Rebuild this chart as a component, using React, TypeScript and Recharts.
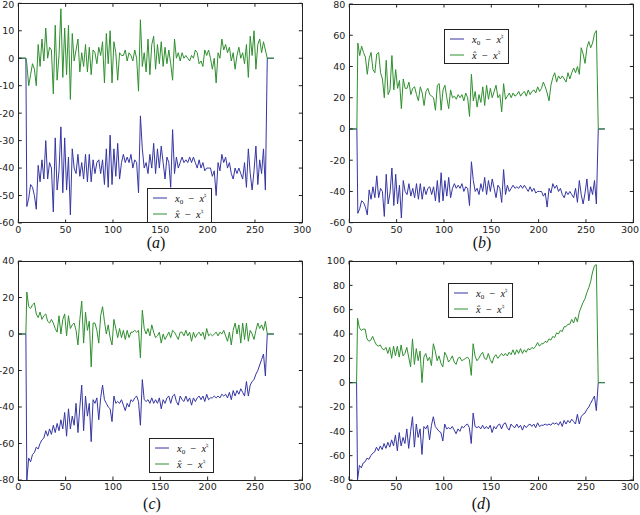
import { LineChart, Line, XAxis, YAxis } from 'recharts';

// sampling grid of the noisy part (x = 9, 11, ..., 261); flat zero before 8 and after 263
const X_START = 9;
const X_STEP = 2;
const LEAD_X = [0, 8];
const TAIL_X = [263, 270];

const xTicks = [0, 50, 100, 150, 200, 250, 300];
const yTicksA = [-60, -50, -40, -30, -20, -10, 0, 10, 20];
const yTicksB = [-60, -40, -20, 0, 20, 40, 60, 80];
const yTicksC = [-80, -60, -40, -20, 0, 20, 40];
const yTicksD = [-80, -60, -40, -20, 0, 20, 40, 60, 80, 100];

// x0 - x*, panels (a) and (b)
const blueAB = [
  -54, -51, -46, -47, -50, -55, -39, -45, -37, -44,
  -30, -44, -38, -40, -56, -29, -48, -41, -25, -49,
  -29, -48, -36, -57, -33, -40, -42, -35, -43, -38,
  -44, -35, -45, -35, -45, -37, -42, -38, -37, -42,
  -37, -46, -33, -47, -28, -46, -33, -43, -31, -44,
  -38, -35, -38, -36, -38, -35, -40, -37, -38, -49,
  -21, -33, -40, -38, -42, -35, -40, -31, -42, -33,
  -40, -32, -38, -44, -36, -38, -47, -26, -42, -36,
  -40, -38, -36, -38, -37, -38, -36, -38, -36, -38,
  -40, -37, -40, -38, -41, -40, -40, -40, -43, -41,
  -50, -38, -41, -35, -38, -36, -40, -38, -42, -44,
  -40, -42, -40, -42, -44, -38, -47, -33, -42, -48,
  -41, -32, -46, -37, -42, -33, -48,
];

// x^ - x*, panel (a)
const greenA = [
  -2, -10, -6, -2, -4, -10, 5, -3, 7, -1,
  11, 0, 4, 3, -13, 12, -8, 1, 18, -7,
  11, -6, 12, -15, 9, -1, 3, 7, -5, 2,
  -3, 5, -5, 4, -6, 3, 2, -2, 4, 1,
  6, -9, 9, -2, 10, -9, 6, 2, -8, 2,
  1, 1, 3, -1, 2, 1, -1, 3, 0, -12,
  14, -3, 2, -5, 7, -6, 5, 8, -4, 5,
  -2, 6, -3, 4, -2, 3, -2, -8, 7, 0,
  2, -1, 2, 0, 1, 0, -1, 1, 0, 3,
  2, -2, -1, -3, 3, 1, 3, 0, -4, 0,
  -9, 2, 0, 7, 3, 5, 2, 4, -1, 2,
  -4, 1, 4, 0, 2, -2, 5, -7, 8, 1,
  10, -4, 5, 7, 2, 6, 3,
];

// x^ - x*, panel (b)
const greenB = [
  55, 47, 53, 49, 46, 35, 45, 49, 38, 36,
  48, 49, 36, 32, 20, 44, 22, 25, 47, 25,
  38, 26, 31, 13, 32, 26, 26, 30, 22, 26,
  27, 22, 18, 27, 23, 15, 24, 26, 22, 21,
  20, 12, 28, 29, 12, 25, 28, 20, 13, 25,
  20, 21, 19, 22, 20, 22, 18, 23, 20, 8,
  35, 18, 24, 14, 22, 17, 27, 15, 28, 19,
  26, 20, 24, 28, 20, 22, 11, 29, 19, 21,
  23, 20, 23, 21, 22, 24, 21, 23, 24, 21,
  25, 22, 24, 25, 23, 27, 24, 26, 30, 27,
  23, 18, 28, 33, 36, 30, 34, 32, 34, 32,
  30, 36, 32, 36, 39, 36, 40, 35, 52, 48,
  42, 52, 56, 52, 55, 61, 63,
];

// x0 - x*, panels (c) and (d)
const blueCD = [
  -80, -68, -70, -66, -65, -62, -63, -60, -58, -57,
  -53, -56, -52, -55, -50, -54, -49, -53, -47, -52,
  -43, -56, -41, -52, -45, -50, -38, -54, -40, -28,
  -53, -34, -45, -38, -59, -36, -38, -35, -47, -35,
  -28, -36, -38, -40, -41, -48, -34, -38, -37, -38,
  -36, -39, -42, -38, -40, -36, -37, -35, -34, -37,
  -50, -25, -36, -37, -36, -38, -35, -38, -36, -38,
  -35, -41, -36, -38, -35, -34, -38, -34, -33, -37,
  -39, -34, -36, -37, -34, -37, -35, -39, -35, -37,
  -35, -34, -36, -34, -37, -33, -36, -35, -35, -34,
  -35, -34, -35, -33, -34, -33, -35, -32, -36, -31,
  -34, -31, -33, -30, -32, -34, -26, -34, -28, -26,
  -25, -22, -20, -17, -14, -11, -23,
];

// x^ - x*, panel (c)
const greenC = [
  23, 15, 14, 16, 17, 11, 9, 12, 8, 10,
  11, 7, 6, 8, 6, 3, 1, 10, 0, 8,
  11, -1, 10, 3, 5, 6, 2, -6, 8, 18,
  -5, 12, 2, 7, -18, 6, 6, 2, -5, 10,
  15, 7, 0, 5, -2, -6, 8, 3, -2, 3,
  -2, 2, -3, 2, -2, 1, 1, 2, 1, 2,
  -13, 13, 3, 0, 3, -1, 5, 1, -2, -1,
  1, -5, 0, -3, -1, 1, -2, 2, 1, -1,
  -3, 1, 1, -1, 2, -1, 1, -4, 1, -2,
  0, 1, -1, 1, -3, 3, -1, 0, -1, 0,
  1, -1, 1, 0, 2, -1, -4, 1, -6, 2,
  6, 0, 5, -5, 6, -3, 6, -4, 2, 0,
  -3, 2, 6, 3, 5, 2, 7,
];

// x^ - x*, panel (d)
const greenD = [
  53, 45, 43, 44, 44, 36, 34, 35, 38, 34,
  31, 30, 31, 28, 27, 29, 24, 29, 20, 30,
  22, 30, 21, 31, 22, 24, 29, 21, 13, 36,
  15, 28, 18, 26, 0, 21, 24, 18, 21, 14,
  32, 26, 18, 22, 16, 13, 25, 22, 17, 19,
  22, 17, 15, 20, 21, 18, 19, 20, 21, 19,
  6, 32, 22, 18, 20, 23, 25, 20, 19, 24,
  19, 16, 21, 23, 20, 22, 24, 22, 24, 22,
  25, 23, 27, 23, 27, 24, 28, 24, 27, 25,
  28, 27, 29, 28, 30, 33, 30, 32, 32, 34,
  33, 36, 35, 38, 37, 41, 40, 43, 42, 46,
  46, 48, 48, 52, 49, 54, 50, 58, 62, 66,
  69, 74, 78, 83, 91, 96, 97,
];

const BLUE = '#3535a3';
const GREEN = '#2f8f2f';
const AXIS = '#222';
const TICK_LEN = 3.5;
const X_AXIS_H = 20;
const LABEL = { fill: '#222', fontSize: 9.5, fontFamily: 'DejaVu Sans' };

function buildRows(blue: number[], green: number[]) {
  const zero = (x: number) => ({ x, blue: 0, green: 0 });
  const mid = blue.map((b, i) => ({ x: X_START + i * X_STEP, blue: b, green: green[i] }));
  return [...LEAD_X.map(zero), ...mid, ...TAIL_X.map(zero)];
}

function LegendBox({ left, top }: { left: number; top: number }) {
  const txt = { fontFamily: 'Liberation Serif', fontSize: 10.5, fill: '#111' };
  return (
    <svg style={{ position: 'absolute', left, top }} width={65} height={36}>
      <rect x={0.5} y={0.5} width={64} height={34} fill="#fff" stroke="#222" />
      <line x1={6} x2={20} y1={10} y2={10} stroke={BLUE} />
      <text x={28} y={13.5} {...txt}>
        <tspan fontStyle="italic">x</tspan>
        <tspan fontSize={7} dy={2.5}>0</tspan>
        <tspan dy={-2.5}>{'\u2002\u2212\u2002'}</tspan>
        <tspan fontStyle="italic">x</tspan>
        <tspan fontSize={7} dy={-4}>{'\u266e'}</tspan>
      </text>
      <line x1={6} x2={20} y1={26} y2={26} stroke={GREEN} />
      <text x={28} y={29.5} {...txt}>
        <tspan fontStyle="italic">{'x\u0302'}</tspan>
        <tspan>{'\u2002\u2212\u2002'}</tspan>
        <tspan fontStyle="italic">x</tspan>
        <tspan fontSize={7} dy={-4}>{'\u266e'}</tspan>
      </text>
    </svg>
  );
}

type PanelProps = {
  left: number;
  top: number;
  width: number;
  height: number;
  margin: { top: number; right: number; bottom: number; left: number };
  yAxisWidth: number;
  yTicks: number[];
  blue: number[];
  green: number[];
  legend: { left: number; top: number };
  tag: string;
  tagPos: { x: number; y: number };
};

function Panel(p: PanelProps) {
  const rows = buildRows(p.blue, p.green);
  const yDomain = [p.yTicks[0], p.yTicks[p.yTicks.length - 1]];
  const pl = p.margin.left + p.yAxisWidth;
  const pr = p.width - p.margin.right;
  const pt = p.margin.top;
  const pb = p.height - p.margin.bottom - X_AXIS_H;

  // matplotlib-style ticks: pointing inward, on both opposite sides
  const xTick = (props: any) => {
    const { x, payload } = props;
    return (
      <g>
        <line x1={x} x2={x} y1={pb} y2={pb - TICK_LEN} stroke={AXIS} />
        <line x1={x} x2={x} y1={pt} y2={pt + TICK_LEN} stroke={AXIS} />
        <text x={Math.min(x, p.width - 10)} y={pb + 10} textAnchor="middle" {...LABEL}>{payload.value}</text>
      </g>
    );
  };
  const yTick = (props: any) => {
    const { y, payload } = props;
    return (
      <g>
        <line x1={pl} x2={pl + TICK_LEN} y1={y} y2={y} stroke={AXIS} />
        <line x1={pr} x2={pr - TICK_LEN} y1={y} y2={y} stroke={AXIS} />
        <text x={pl - 4} y={Math.max(y, 5) + 3.4} textAnchor="end" {...LABEL}>{payload.value}</text>
      </g>
    );
  };

  return (
    <div style={{ position: 'absolute', left: p.left, top: p.top, width: p.width, height: p.height }}>
      <LineChart width={p.width} height={p.height} data={rows} margin={p.margin}>
        <XAxis type="number" dataKey="x" domain={[0, 300]} ticks={xTicks} interval={0} allowDataOverflow
          height={X_AXIS_H} axisLine={false} tickLine={false} tick={xTick} />
        <YAxis type="number" domain={yDomain} ticks={p.yTicks} interval={0} allowDataOverflow
          width={p.yAxisWidth} axisLine={false} tickLine={false} tick={yTick} />
        <Line type="linear" dataKey="blue" stroke={BLUE} strokeWidth={1}
          dot={false} activeDot={false} isAnimationActive={false} />
        <Line type="linear" dataKey="green" stroke={GREEN} strokeWidth={1}
          dot={false} activeDot={false} isAnimationActive={false} />
      </LineChart>
      <div style={{
        position: 'absolute', left: pl - 0.5, top: pt - 0.5, width: pr - pl + 1, height: pb - pt + 1,
        border: `1px solid ${AXIS}`, boxSizing: 'border-box', pointerEvents: 'none',
      }} />
      <LegendBox left={p.legend.left} top={p.legend.top} />
      <div style={{
        position: 'absolute', left: p.tagPos.x - 20, top: p.tagPos.y - 10, width: 40, textAlign: 'center',
        fontFamily: 'Liberation Serif', fontSize: 16, lineHeight: '20px', color: '#111',
      }}>
        (<i>{p.tag}</i>)
      </div>
    </div>
  );
}

export default function App() {
  return (
    <div style={{ position: 'absolute', left: 0, top: 0, width: 640, height: 515, background: '#fff', overflow: 'hidden' }}>
      <Panel left={0} top={0} width={320} height={250}
        margin={{ top: 3.3, right: 17.7, bottom: 7, left: 0 }} yAxisWidth={18.3}
        yTicks={yTicksA} blue={blueAB} green={greenA}
        legend={{ left: 146.7, top: 187.7 }} tag="a" tagPos={{ x: 156, y: 243 }} />
      <Panel left={320} top={0} width={320} height={250}
        margin={{ top: 4, right: 6.7, bottom: 7.3, left: 0 }} yAxisWidth={29.3}
        yTicks={yTicksB} blue={blueAB} green={greenB}
        legend={{ left: 124.3, top: 29.3 }} tag="b" tagPos={{ x: 162, y: 243 }} />
      <Panel left={0} top={250} width={320} height={265}
        margin={{ top: 11, right: 17.7, bottom: 15, left: 0 }} yAxisWidth={18.3}
        yTicks={yTicksC} blue={blueCD} green={greenC}
        legend={{ left: 149, top: 188.3 }} tag="c" tagPos={{ x: 152, y: 254 }} />
      <Panel left={320} top={250} width={320} height={265}
        margin={{ top: 11, right: 6.7, bottom: 15, left: 0 }} yAxisWidth={29}
        yTicks={yTicksD} blue={blueCD} green={greenD}
        legend={{ left: 128.3, top: 33.3 }} tag="d" tagPos={{ x: 161, y: 254 }} />
    </div>
  );
}
